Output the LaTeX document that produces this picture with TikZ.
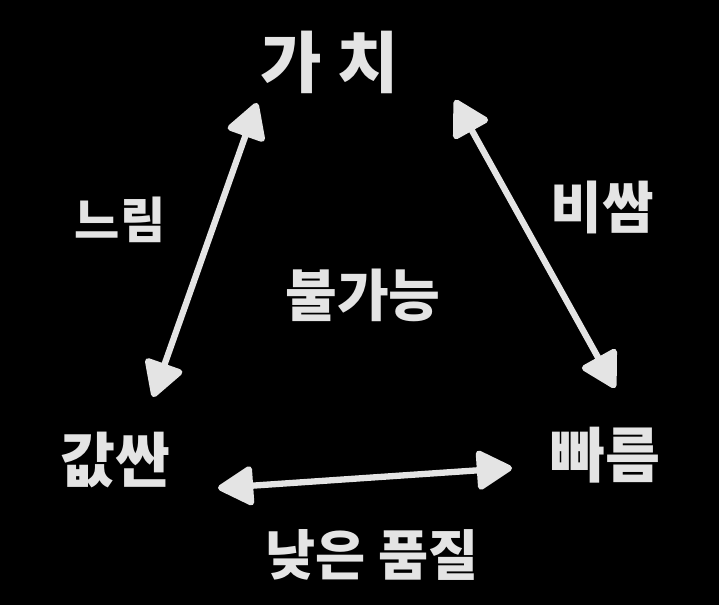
\documentclass[tikz,border=0pt]{standalone}
\usepackage{fontspec}
\setmainfont{Noto Sans CJK KR}
\usetikzlibrary{arrows.meta}
\definecolor{chalk}{RGB}{228,228,228}
\tikzset{%
    lbl/.style={text=chalk, inner sep=0pt, font=\fontsize{32}{34}\selectfont\bfseries},
    link/.style={draw=chalk, line width=3.6pt, line cap=round, line join=round,
        {Triangle[length=22pt,width=24pt,fill=chalk,line join=round]}-{Triangle[length=22pt,width=24pt,fill=chalk,line join=round]}}
}
\begin{document}
\begin{tikzpicture}
            % background
            \fill[black] (0,0) rectangle (14.38,12.1);
            \useasboundingbox (0,0) rectangle (14.38,12.1);

            % corner labels
            \node[lbl, font=\fontsize{38}{40}\selectfont\bfseries] (value) at (6.6,10.86){가 치};
            \node[lbl, font=\fontsize{34}{36}\selectfont\bfseries] (cheap) at (2.3,2.9){값싼};
            \node[lbl, font=\fontsize{34}{36}\selectfont\bfseries] (fast) at (12.1,3.0){빠름};

            % edge labels
            \node[lbl, font=\fontsize{28}{30}\selectfont\bfseries] (slow) at (2.4,7.7){느림};
            \node[lbl] (pricey) at (12.04,7.96){비쌈};
            \node[lbl, font=\fontsize{31}{33}\selectfont\bfseries] (lowq) at (7.44,1.0){낮은 품질};

            % middle
            \node[lbl] (imposs) at (7.26,6.2){불가능};

            % arrow ends
            \coordinate (valueL) at (5.14,10.04);
            \coordinate (valueR) at (9.1,10.1);
            \coordinate (cheapT) at (3.06,4.16);
            \coordinate (cheapR) at (4.36,2.34);
            \coordinate (fastT) at (12.3,4.34);
            \coordinate (fastL) at (10.24,2.74);

            % arrows
            \draw[link] (cheapT) -- (valueL);
            \draw[link] (valueR) -- (fastT);
            \draw[link] (cheapR) -- (fastL);
        \end{tikzpicture}
\end{document}
